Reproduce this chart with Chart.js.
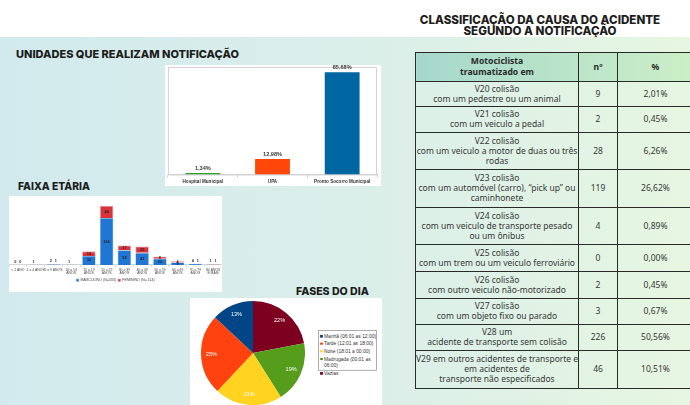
<!DOCTYPE html>
<html>
<head>
<meta charset="utf-8">
<script src="https://cdn.jsdelivr.net/npm/chart.js@4.4.1/dist/chart.umd.min.js"></script>
<style>
  html, body { margin: 0; padding: 0; width: 690px; height: 405px; overflow: hidden; background: #fff; }
  #bg { position: absolute; left: 0; top: 37px; width: 690px; height: 368px;
        background: linear-gradient(90deg, #d2eaee 0%, #dbefe9 55%, #e6f6e1 100%); }
  .titulo { position: absolute; font-family: Inter, sans-serif; font-weight: 800; color: #1d1d1b; white-space: nowrap; }
  .box { position: absolute; background: #fff; }
  #tabela { position: absolute; left: 415px; top: 52px; width: 278px; border-collapse: collapse; table-layout: fixed;
            font-family: "Noto Sans", sans-serif; font-size: 8.5px; color: #363636; }
  #tabela td, #tabela th { border: 1px solid #2a2a2a; padding: 0; text-align: center; vertical-align: middle;
            line-height: 10px; white-space: pre; }
  #tabela th { font-weight: 700; color: #2a2a2a; line-height: 11px; font-size: 8.6px; }
  /* legenda desenhada em 7px e reduzida, para escapar do tamanho mínimo de fonte */
  #legPie { position: absolute; left: 318px; top: 330px; width: 84px; height: 58px; border: 1.1px solid #8c8c8c;
            background: #fff; font-family: "Liberation Sans", sans-serif; font-size: 7px; color: #333; padding-top: 3px;
            transform: scale(0.7); transform-origin: 0 0; box-sizing: border-box; }
  #legPie .it { display: flex; align-items: flex-start; margin-left: 2px; margin-bottom: 1.5px; line-height: 9.4px; }
  #legPie .sq { width: 3.7px; height: 3.7px; margin-top: 2.9px; margin-right: 1.9px; flex: none; }
  #legPie .tx { width: 76px; }
</style>
</head>
<body>
<div id="bg"></div>

<div class="titulo" style="left:16px;top:47px;font-size:11px;">UNIDADES QUE REALIZAM NOTIFICAÇÃO</div>
<div class="titulo" style="left:18px;top:180px;font-size:10.3px;">FAIXA ETÁRIA</div>
<div class="titulo" style="left:296px;top:285px;font-size:10.6px;">FASES DO DIA</div>
<div class="titulo" style="left:400px;top:15px;width:280px;text-align:center;font-size:11.6px;line-height:11.4px;">CLASSIFICAÇÃO DA CAUSA DO ACIDENTE<br>SEGUNDO A NOTIFICAÇÃO</div>

<div class="box" style="left:165px;top:65px;width:216px;height:121px;"><canvas id="cUnidades"></canvas></div>
<div class="box" style="left:9px;top:196px;width:213px;height:96px;"><canvas id="cFaixa"></canvas></div>
<div class="box" style="left:190px;top:298px;width:192px;height:107px;"></div>
<div style="position:absolute;left:201px;top:301px;width:104px;height:104px;"><canvas id="cFases"></canvas></div>
<div id="legPie"></div>

<table id="tabela">
  <colgroup><col style="width:163px"><col style="width:39px"><col style="width:76px"></colgroup>
  <thead><tr id="cab"></tr></thead>
  <tbody id="corpo"></tbody>
</table>

<script>
// --- dados: unidades notificadoras
const unidades = ["Hospital Municipal", "UPA", "Pronto Socorro Municipal"];
const unidadesPct = [1.34, 12.98, 85.68];
const unidadesCores = ["#2fa52c", "#ff4709", "#0066a1"];

// --- dados: faixa etária
const faixas = ["< 1 ANO", "1 a 4 ANOS", "5 a 9 ANOS", ["10 a 14", "ANOS"], ["15 a 19", "ANOS"], ["20 a 29", "ANOS"],
  ["30 a 39", "ANOS"], ["40 a 49", "ANOS"], ["50 a 59", "ANOS"], ["60 a 69", "ANOS"], ["70 a 79", "ANOS"], ["80 ANOS", "E MAIS"]];
const masculino = [0, 1, 2, 1, 32, 166, 52, 43, 22, 9, 4, 1];
const feminino = [0, 0, 1, 0, 16, 44, 17, 22, 8, 4, 1, 1];

// --- dados: fases do dia (ordem da legenda)
const fases = ["Manhã (06:01 as 12:00)", "Tarde (12:01 as 18:00)", "Noite (18:01 a 00:00)", "Madrugada (00:01 as 06:00)", "Vazias"];
const fasesPct = [13, 25, 21, 19, 22];
const fasesCores = ["#004586", "#ff420e", "#ffd320", "#579d1c", "#7e0021"];

// --- dados: tabela
const cabecalho = ["Motociclista\ntraumatizado em", "nº", "%"];
const causas = [
  "V20 colisão\ncom um pedestre ou um animal",
  "V21 colisão\ncom um veiculo a pedal",
  "V22 colisão\ncom um veiculo a motor de duas ou três\nrodas",
  "V23 colisão\ncom um automóvel (carro), “pick up” ou\ncaminhonete",
  "V24 colisão\ncom um veiculo de transporte pesado\nou um ônibus",
  "V25 colisão\ncom um trem ou um veiculo ferroviário",
  "V26 colisão\ncom outro veiculo não-motorizado",
  "V27 colisão\ncom um objeto fixo ou parado",
  "V28 um\nacidente de transporte sem colisão",
  "V29 em outros acidentes de transporte e\nem acidentes de\ntransporte não especificados"
];
const causasN = [9, 2, 28, 119, 4, 0, 2, 3, 226, 46];
const causasPct = [2.01, 0.45, 6.26, 26.62, 0.89, 0.00, 0.45, 0.67, 50.56, 10.51];

const alturas = [29, 25, 25.6, 37.7, 37.3, 37.7, 26.7, 27.3, 25.3, 26.7, 37.3];
const pct = v => v.toFixed(2).replace(".", ",") + "%";

// tabela
const cabGrad = ["linear-gradient(90deg,#a5d8cc,#bce5c9)", "linear-gradient(90deg,#bce5c9,#c1e8c8)", "linear-gradient(90deg,#c1e8c8,#cbeec6)"];
const cab = document.getElementById("cab");
cab.style.height = alturas[0] + "px";
cabecalho.forEach((t, i) => {
  const th = document.createElement("th");
  th.textContent = t;
  th.style.background = cabGrad[i];
  cab.appendChild(th);
});
const corpo = document.getElementById("corpo");
causas.forEach((c, i) => {
  const tr = document.createElement("tr");
  tr.style.height = alturas[i + 1] + "px";
  [c, String(causasN[i]), pct(causasPct[i])].forEach(t => {
    const td = document.createElement("td");
    td.textContent = t;
    tr.appendChild(td);
  });
  corpo.appendChild(tr);
});

Chart.defaults.font.family = "'Liberation Sans', Arial, sans-serif";
Chart.defaults.animation = false;

// moldura cinza em volta da área do gráfico
const moldura = {
  id: "moldura",
  beforeDatasetsDraw(chart) {
    const a = chart.chartArea, ctx = chart.ctx;
    ctx.save();
    ctx.strokeStyle = "#d4d4d4";
    ctx.lineWidth = 1;
    ctx.strokeRect(a.left + 0.5, a.top + 0.5, a.right - a.left - 1, a.bottom - a.top);
    ctx.restore();
  }
};

const rotuloBarras = {
  id: "rotuloBarras",
  afterDatasetsDraw(chart) {
    const ctx = chart.ctx;
    ctx.save();
    ctx.font = "bold 5.6px 'Liberation Sans', Arial";
    ctx.fillStyle = "#3a3a3a";
    ctx.textAlign = "center";
    ctx.textBaseline = "bottom";
    chart.getDatasetMeta(0).data.forEach((b, i) => {
      ctx.fillText(pct(unidadesPct[i]), b.x, b.y - 1.5);
    });
    ctx.restore();
  }
};

new Chart(document.getElementById("cUnidades"), {
  type: "bar",
  data: {
    labels: unidades,
    datasets: [{ data: unidadesPct, backgroundColor: unidadesCores, barPercentage: 0.5, categoryPercentage: 1 }]
  },
  options: {
    responsive: true,
    maintainAspectRatio: false,
    layout: { padding: { left: 3, right: 4, top: 2, bottom: 1 } },
    plugins: { legend: { display: false }, tooltip: { enabled: false } },
    scales: {
      x: {
        grid: { offset: true, drawOnChartArea: false, tickLength: 3, color: "#cfcfcf" },
        border: { color: "#cfcfcf" },
        ticks: { font: { size: 4.6, weight: "bold" }, color: "#333", padding: 1, maxRotation: 0 }
      },
      y: { display: false, min: 0, max: 90 }
    }
  },
  plugins: [moldura, rotuloBarras]
});

const rotuloFaixa = {
  id: "rotuloFaixa",
  afterDatasetsDraw(chart) {
    const ctx = chart.ctx;
    ctx.save();
    ctx.font = "bold 3.8px 'Liberation Sans', Arial";
    ctx.fillStyle = "#262626";
    ctx.textAlign = "center";
    ctx.textBaseline = "middle";
    const mM = chart.getDatasetMeta(0).data, mF = chart.getDatasetMeta(1).data;
    faixas.forEach((f, i) => {
      const total = masculino[i] + feminino[i];
      if (total < 12) {
        const topo = mF[i].y - 3;
        if (feminino[i] > 0 || total === 0) {
          ctx.fillText(String(masculino[i]), mM[i].x - 2.5, topo);
          ctx.fillText(String(feminino[i]), mM[i].x + 2.5, topo);
        } else {
          ctx.fillText(String(masculino[i]), mM[i].x - 2, topo);
        }
      } else {
        [mM[i], mF[i]].forEach((b, k) => {
          const v = k === 0 ? masculino[i] : feminino[i];
          ctx.fillText(String(v), b.x, (b.y + b.base) / 2);
        });
      }
    });
    ctx.restore();
  }
};

new Chart(document.getElementById("cFaixa"), {
  type: "bar",
  data: {
    labels: faixas,
    datasets: [
      { label: "MASCULINO (N=333)", data: masculino, backgroundColor: "#1f76d3", borderColor: "#7fb3ea", borderWidth: 0.6 },
      { label: "FEMININO (N= 114)", data: feminino, backgroundColor: "#d8323a", borderColor: "#f0a1a6", borderWidth: 0.8 }
    ]
  },
  options: {
    responsive: true,
    maintainAspectRatio: false,
    datasets: { bar: { barPercentage: 0.76, categoryPercentage: 1 } },
    layout: { padding: { left: 0, right: 0, top: 4, bottom: 0 } },
    plugins: {
      tooltip: { enabled: false },
      legend: {
        position: "bottom",
        labels: { font: { size: 3.6 }, color: "#444", boxWidth: 2.5, boxHeight: 2.5, padding: 2 }
      }
    },
    scales: {
      x: {
        stacked: true,
        grid: { offset: true, drawOnChartArea: false, tickLength: 2, color: "#dddddd" },
        border: { color: "#d6d6d6" },
        ticks: { font: { size: 3.4, lineHeight: 1.1 }, color: "#444", padding: 1, maxRotation: 0, autoSkip: false }
      },
      y: { stacked: true, display: false, min: 0, max: 230 }
    }
  },
  plugins: [rotuloFaixa]
});

// pizza desenhada em sentido horário a partir do topo: ordem inversa da legenda
const fasesDesenho = fases.slice().reverse();
const fasesPctDesenho = fasesPct.slice().reverse();
const fasesCoresDesenho = fasesCores.slice().reverse();

const rotuloPizza = {
  id: "rotuloPizza",
  afterDatasetsDraw(chart) {
    const ctx = chart.ctx;
    ctx.save();
    ctx.font = "5.6px 'Liberation Sans', Arial";
    ctx.fillStyle = "#fff";
    ctx.textAlign = "center";
    ctx.textBaseline = "middle";
    chart.getDatasetMeta(0).data.forEach((a, i) => {
      const ang = (a.startAngle + a.endAngle) / 2;
      const r = a.outerRadius * 0.8;
      ctx.fillText(fasesPctDesenho[i] + "%", a.x + Math.cos(ang) * r, a.y + Math.sin(ang) * r);
    });
    ctx.restore();
  }
};

new Chart(document.getElementById("cFases"), {
  type: "pie",
  data: {
    labels: fasesDesenho,
    datasets: [{ data: fasesPctDesenho, backgroundColor: fasesCoresDesenho, borderWidth: 0 }]
  },
  options: {
    responsive: true,
    maintainAspectRatio: false,
    layout: { padding: 0 },
    plugins: { legend: { display: false }, tooltip: { enabled: false } }
  },
  plugins: [rotuloPizza]
});

// legenda da pizza
const leg = document.getElementById("legPie");
fases.forEach((f, i) => {
  const it = document.createElement("div");
  it.className = "it";
  const sq = document.createElement("span");
  sq.className = "sq";
  sq.style.background = fasesCores[i];
  const tx = document.createElement("span");
  tx.className = "tx";
  tx.textContent = f;
  it.appendChild(sq);
  it.appendChild(tx);
  leg.appendChild(it);
});
</script>
</body>
</html>
